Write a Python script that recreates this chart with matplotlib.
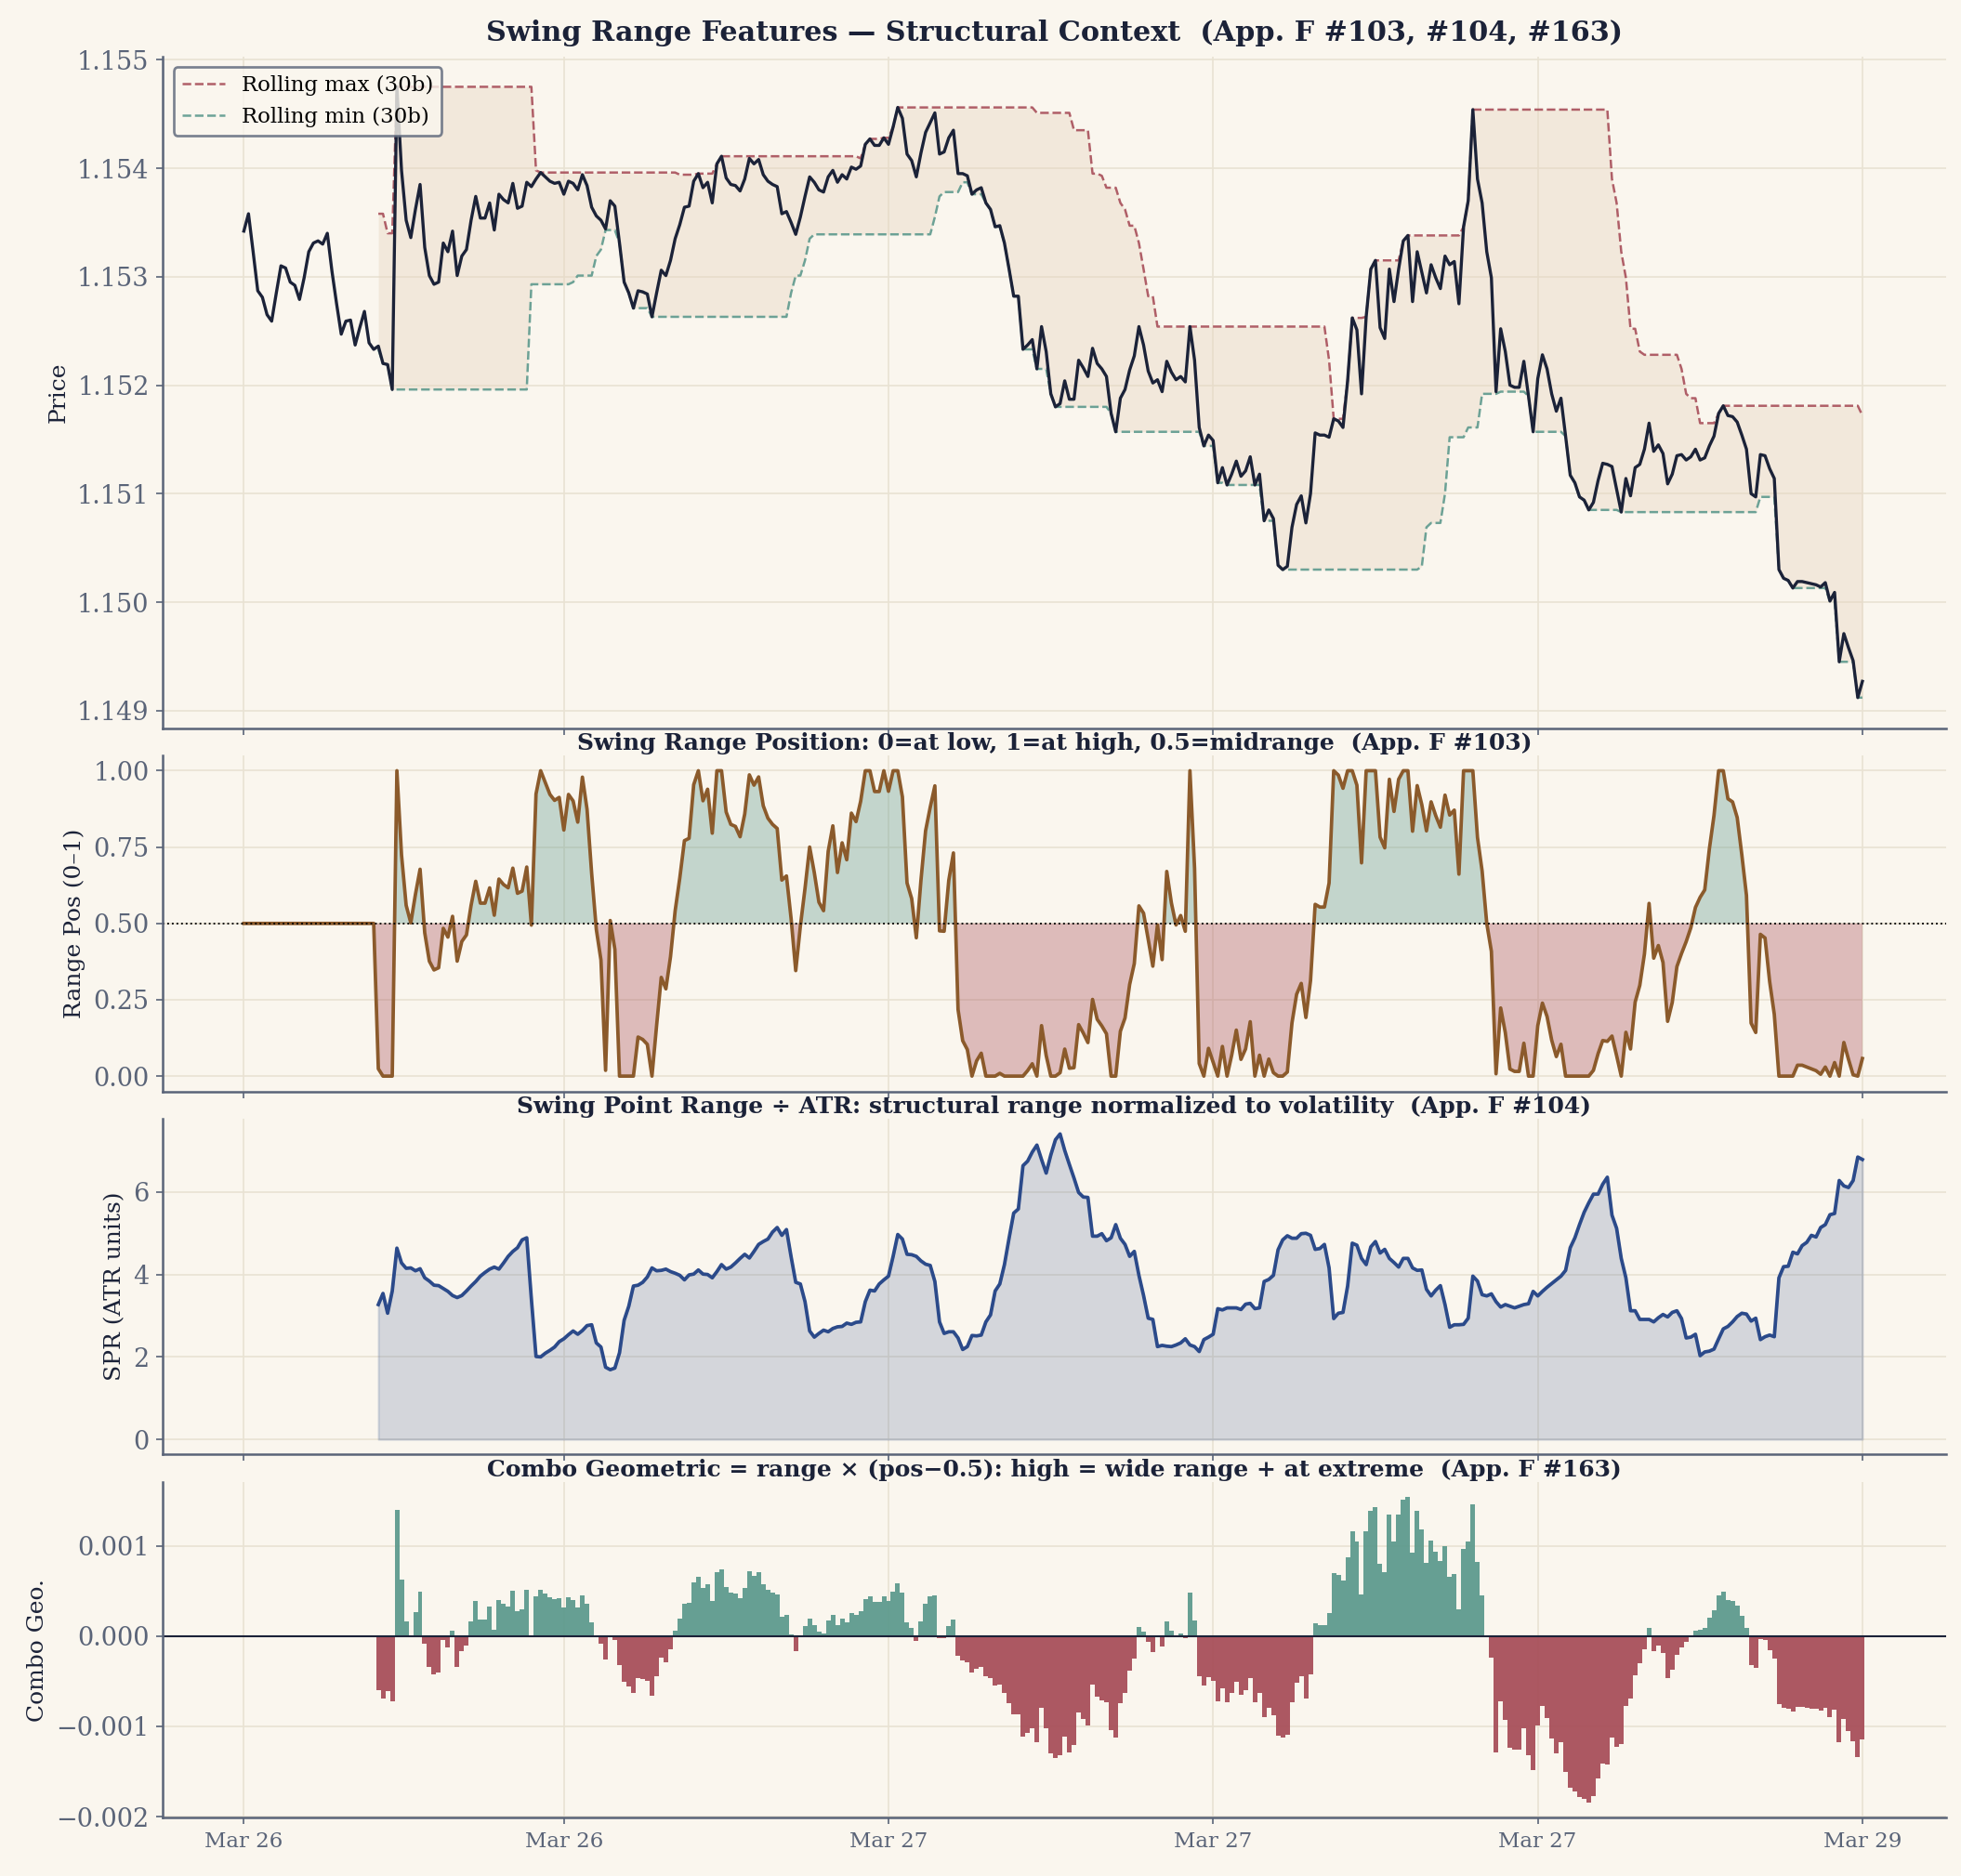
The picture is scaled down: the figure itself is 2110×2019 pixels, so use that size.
import matplotlib
matplotlib.use("Agg")
import matplotlib.pyplot as plt
import numpy as np
import pandas as pd

# -------------------------------
# Data
# -------------------------------
close = [
    1.15342, 1.15358, 1.15323, 1.15287, 1.15281, 1.15265, 1.15259, 1.15285, 1.15310, 1.15308,
    1.15295, 1.15292, 1.15279, 1.15299, 1.15323, 1.15331, 1.15333, 1.15330, 1.15340, 1.15305,
    1.15275, 1.15247, 1.15259, 1.15260, 1.15237, 1.15253, 1.15268, 1.15239, 1.15233, 1.15236,
    1.15220, 1.15219, 1.15196, 1.15475, 1.15398, 1.15352, 1.15336, 1.15362, 1.15385, 1.15327,
    1.15301, 1.15293, 1.15295, 1.15331, 1.15323, 1.15342, 1.15301, 1.15319, 1.15325, 1.15352,
    1.15374, 1.15354, 1.15354, 1.15368, 1.15343, 1.15376, 1.15371, 1.15368, 1.15386, 1.15363,
    1.15365, 1.15387, 1.15383, 1.15390, 1.15396, 1.15392, 1.15388, 1.15386, 1.15387, 1.15376,
    1.15388, 1.15386, 1.15380, 1.15394, 1.15384, 1.15364, 1.15356, 1.15352, 1.15344, 1.15370,
    1.15365, 1.15331, 1.15295, 1.15285, 1.15271, 1.15287, 1.15286, 1.15284, 1.15263, 1.15285,
    1.15306, 1.15301, 1.15315, 1.15335, 1.15348, 1.15364, 1.15365, 1.15388, 1.15395, 1.15382,
    1.15387, 1.15368, 1.15404, 1.15411, 1.15391, 1.15385, 1.15384, 1.15379, 1.15390, 1.15409,
    1.15404, 1.15408, 1.15394, 1.15388, 1.15385, 1.15383, 1.15358, 1.15360, 1.15350, 1.15339,
    1.15355, 1.15374, 1.15392, 1.15387, 1.15380, 1.15378, 1.15392, 1.15398, 1.15387, 1.15394,
    1.15390, 1.15401, 1.15399, 1.15402, 1.15422, 1.15427, 1.15421, 1.15421, 1.15428, 1.15422,
    1.15438, 1.15456, 1.15446, 1.15413, 1.15407, 1.15392, 1.15414, 1.15433, 1.15442, 1.15451,
    1.15413, 1.15415, 1.15428, 1.15435, 1.15395, 1.15395, 1.15393, 1.15376, 1.15380, 1.15382,
    1.15368, 1.15362, 1.15346, 1.15347, 1.15331, 1.15307, 1.15282, 1.15282, 1.15233, 1.15237,
    1.15242, 1.15215, 1.15254, 1.15231, 1.15192, 1.15180, 1.15183, 1.15204, 1.15187, 1.15187,
    1.15223, 1.15216, 1.15208, 1.15234, 1.15220, 1.15215, 1.15208, 1.15174, 1.15157, 1.15188,
    1.15196, 1.15214, 1.15227, 1.15254, 1.15237, 1.15213, 1.15202, 1.15205, 1.15194, 1.15222,
    1.15212, 1.15205, 1.15208, 1.15203, 1.15254, 1.15223, 1.15161, 1.15144, 1.15154, 1.15149,
    1.15110, 1.15124, 1.15108, 1.15118, 1.15130, 1.15116, 1.15121, 1.15134, 1.15108, 1.15118,
    1.15075, 1.15085, 1.15077, 1.15034, 1.15030, 1.15033, 1.15069, 1.15090, 1.15098, 1.15073,
    1.15100, 1.15156, 1.15154, 1.15154, 1.15152, 1.15169, 1.15167, 1.15161, 1.15204, 1.15262,
    1.15251, 1.15192, 1.15263, 1.15307, 1.15315, 1.15253, 1.15243, 1.15307, 1.15277, 1.15307,
    1.15333, 1.15338, 1.15277, 1.15323, 1.15304, 1.15285, 1.15311, 1.15299, 1.15289, 1.15319,
    1.15311, 1.15314, 1.15275, 1.15346, 1.15370, 1.15454, 1.15390, 1.15368, 1.15323, 1.15299,
    1.15194, 1.15252, 1.15231, 1.15200, 1.15198, 1.15198, 1.15222, 1.15190, 1.15157, 1.15206,
    1.15228, 1.15215, 1.15192, 1.15176, 1.15188, 1.15153, 1.15117, 1.15110, 1.15097, 1.15094,
    1.15085, 1.15092, 1.15112, 1.15128, 1.15127, 1.15125, 1.15104, 1.15083, 1.15114, 1.15098,
    1.15124, 1.15127, 1.15141, 1.15165, 1.15139, 1.15145, 1.15137, 1.15109, 1.15118, 1.15135,
    1.15136, 1.15131, 1.15134, 1.15141, 1.15131, 1.15133, 1.15144, 1.15153, 1.15174, 1.15181,
    1.15172, 1.15171, 1.15166, 1.15154, 1.15141, 1.15100, 1.15097, 1.15136, 1.15135, 1.15123,
    1.15114, 1.15030, 1.15022, 1.15020, 1.15013, 1.15019, 1.15019, 1.15018, 1.15017, 1.15016,
    1.15014, 1.15018, 1.15001, 1.15009, 1.14945, 1.14971, 1.14958, 1.14946, 1.14912, 1.14927,
]

# swing point range / ATR, available from bar 29 on
spr_values = [
    3.27, 3.54, 3.06, 3.60, 4.64, 4.28, 4.15, 4.16, 4.09, 4.14,
    3.92, 3.84, 3.74, 3.73, 3.66, 3.59, 3.49, 3.44, 3.49, 3.60,
    3.72, 3.83, 3.96, 4.05, 4.13, 4.18, 4.13, 4.28, 4.44, 4.56,
    4.65, 4.84, 4.89, 3.40, 2.01, 2.00, 2.09, 2.16, 2.24, 2.37,
    2.44, 2.54, 2.63, 2.55, 2.64, 2.76, 2.78, 2.34, 2.24, 1.75,
    1.69, 1.73, 2.10, 2.89, 3.23, 3.72, 3.74, 3.81, 3.94, 4.16,
    4.09, 4.10, 4.13, 4.07, 4.03, 3.98, 3.87, 3.99, 4.01, 4.11,
    4.01, 4.00, 3.92, 4.07, 4.24, 4.13, 4.18, 4.28, 4.39, 4.49,
    4.40, 4.56, 4.73, 4.80, 4.86, 5.03, 5.14, 4.95, 5.09, 4.43,
    3.81, 3.77, 3.34, 2.63, 2.48, 2.57, 2.65, 2.61, 2.69, 2.73,
    2.74, 2.82, 2.79, 2.84, 2.85, 3.34, 3.62, 3.60, 3.77, 3.87,
    3.96, 4.44, 4.97, 4.86, 4.49, 4.48, 4.44, 4.33, 4.25, 4.22,
    3.83, 2.85, 2.57, 2.61, 2.61, 2.46, 2.18, 2.25, 2.52, 2.51,
    2.53, 2.85, 3.02, 3.60, 3.77, 4.24, 4.88, 5.49, 5.59, 6.64,
    6.75, 6.97, 7.14, 6.79, 6.46, 6.90, 7.27, 7.41, 7.01, 6.67,
    6.34, 5.99, 5.88, 5.87, 4.93, 4.93, 4.99, 4.82, 4.89, 5.21,
    4.88, 4.73, 4.44, 4.56, 3.98, 3.49, 2.94, 2.91, 2.25, 2.28,
    2.26, 2.25, 2.29, 2.34, 2.44, 2.29, 2.25, 2.13, 2.42, 2.48,
    2.55, 3.17, 3.14, 3.19, 3.19, 3.19, 3.15, 3.28, 3.30, 3.17,
    3.19, 3.83, 3.88, 3.98, 4.60, 4.84, 4.94, 4.88, 4.88, 4.99,
    5.00, 4.95, 4.61, 4.63, 4.73, 4.16, 2.93, 3.06, 3.08, 3.72,
    4.76, 4.71, 4.39, 4.24, 4.67, 4.80, 4.52, 4.61, 4.39, 4.29,
    4.18, 4.39, 4.39, 4.16, 4.10, 4.11, 3.64, 3.48, 3.62, 3.73,
    3.27, 2.72, 2.78, 2.78, 2.79, 2.94, 3.96, 3.84, 3.51, 3.48,
    3.53, 3.34, 3.21, 3.27, 3.23, 3.19, 3.23, 3.27, 3.29, 3.59,
    3.48, 3.59, 3.69, 3.78, 3.87, 3.96, 4.10, 4.65, 4.89, 5.21,
    5.51, 5.74, 5.95, 5.95, 6.19, 6.36, 5.44, 5.12, 4.39, 3.92,
    3.12, 3.12, 2.91, 2.91, 2.91, 2.85, 2.95, 3.03, 2.97, 3.08,
    3.12, 2.93, 2.46, 2.48, 2.55, 2.03, 2.12, 2.14, 2.19, 2.44,
    2.68, 2.74, 2.85, 2.98, 3.06, 3.04, 2.87, 2.94, 2.42, 2.49,
    2.53, 2.49, 3.92, 4.19, 4.20, 4.54, 4.50, 4.70, 4.78, 4.95,
    4.91, 5.14, 5.21, 5.45, 5.48, 6.28, 6.15, 6.11, 6.28, 6.85, 6.79,
]

tick_labels = ["Mar 26", "Mar 26", "Mar 27", "Mar 27", "Mar 27", "Mar 29"]
pos_ticks = [0.0, 0.25, 0.5, 0.75, 1.0]
window = 30

# -------------------------------
# Derived features
# -------------------------------
px = pd.Series(close)
x = np.arange(len(px))
roll_max = px.rolling(window).max()
roll_min = px.rolling(window).min()
rng = roll_max - roll_min
pos_raw = (px - roll_min) / rng
pos = pos_raw.fillna(0.5)
combo = rng * (pos_raw - 0.5)

spr = pd.Series([np.nan] * (len(px) - len(spr_values)) + spr_values)

# -------------------------------
# Style
# -------------------------------
BG = "#FAF6EE"
INK = "#1B2238"
TICK = "#5A6478"
GRID = "#E9E2D3"
RED = "#A84F5A"
GREEN = "#5E9A8E"
BROWN = "#8B5A2B"
BLUE = "#2B4A8A"

plt.rcParams["font.family"] = ["DejaVu Serif"]
plt.rcParams["axes.facecolor"] = BG
plt.rcParams["figure.facecolor"] = BG
plt.rcParams["axes.edgecolor"] = TICK
plt.rcParams["xtick.color"] = TICK
plt.rcParams["ytick.color"] = TICK
plt.rcParams["axes.labelcolor"] = INK

fig, axes = plt.subplots(4, 1, figsize=(14.07, 13.46), dpi=150, sharex=True,
                         gridspec_kw={"height_ratios": [2, 1, 1, 1], "hspace": 0.065})
fig.subplots_adjust(left=0.083, right=0.992, top=0.97, bottom=0.031)

for ax in axes:
    ax.spines["top"].set_visible(False)
    ax.spines["right"].set_visible(False)
    ax.spines["left"].set_linewidth(1.2)
    ax.spines["bottom"].set_linewidth(1.2)
    ax.grid(True, color=GRID, linewidth=0.8)
    ax.set_axisbelow(True)
    ax.tick_params(axis="y", labelsize=13)
    ax.tick_params(axis="x", labelsize=11)

# -------------------------------
# Panel 1: price + rolling range
# -------------------------------
ax = axes[0]
ax.fill_between(x, roll_min, roll_max, color="#E6D5BF", alpha=0.4, linewidth=0)
ax.plot(x, roll_max, color=RED, linestyle="--", linewidth=1.2, alpha=0.9, label="Rolling max (30b)")
ax.plot(x, roll_min, color=GREEN, linestyle="--", linewidth=1.2, alpha=0.9, label="Rolling min (30b)")
ax.plot(x, px, color=INK, linewidth=1.6)
ax.set_ylabel("Price", fontsize=12)
leg = ax.legend(loc="upper left", fontsize=11, frameon=True, facecolor=BG, edgecolor=TICK)
leg.get_frame().set_linewidth(1.3)
ax.set_title("Swing Range Features \u2014 Structural Context  (App. F #103, #104, #163)",
             fontsize=14.5, fontweight="bold", color=INK, pad=8)

# -------------------------------
# Panel 2: range position
# -------------------------------
ax = axes[1]
ax.fill_between(x, pos, 0.5, where=pos >= 0.5, color=GREEN, alpha=0.35, linewidth=0, interpolate=True)
ax.fill_between(x, pos, 0.5, where=pos < 0.5, color=RED, alpha=0.35, linewidth=0, interpolate=True)
ax.plot(x, pos, color=BROWN, linewidth=1.8)
ax.axhline(0.5, color="black", linestyle=":", linewidth=0.9)
ax.set_yticks(pos_ticks)
ax.set_ylabel("Range Pos (0\u20131)", fontsize=12)
ax.set_title("Swing Range Position: 0=at low, 1=at high, 0.5=midrange  (App. F #103)",
             fontsize=12, fontweight="bold", color=INK, pad=3)

# -------------------------------
# Panel 3: SPR / ATR
# -------------------------------
ax = axes[2]
ax.fill_between(x, spr, 0, color=BLUE, alpha=0.18, linewidth=1)
ax.plot(x, spr, color=BLUE, linewidth=1.8)
ax.set_ylabel("SPR (ATR units)", fontsize=12)
ax.set_title("Swing Point Range \u00f7 ATR: structural range normalized to volatility  (App. F #104)",
             fontsize=12, fontweight="bold", color=INK, pad=3)

# -------------------------------
# Panel 4: combo geometric
# -------------------------------
ax = axes[3]
bar_colors = [GREEN if v >= 0 else RED for v in combo.fillna(0)]
ax.bar(x, combo, width=1.0, color=bar_colors, alpha=0.95, linewidth=0)
ax.axhline(0, color=INK, linewidth=1.0)
ax.set_ylabel("Combo Geo.", fontsize=12)
ax.set_title("Combo Geometric = range \u00d7 (pos\u22120.5): high = wide range + at extreme  (App. F #163)",
             fontsize=12, fontweight="bold", color=INK, pad=3)

ticks = np.linspace(0, len(px) - 1, len(tick_labels)).astype(int)
axes[3].set_xticks(ticks)
axes[3].set_xticklabels(tick_labels)

fig.savefig("out.png", dpi=150, facecolor=BG)
